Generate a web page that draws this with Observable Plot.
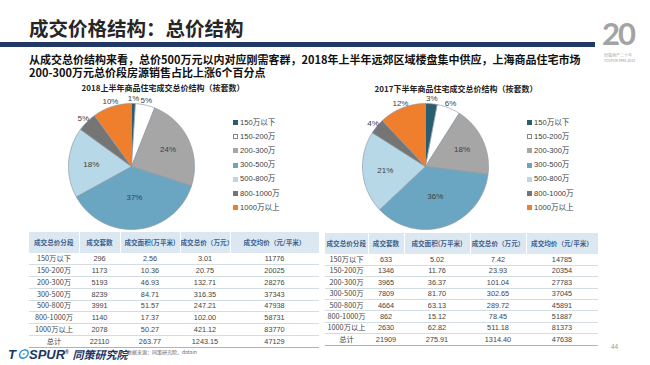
<!DOCTYPE html>
<html><head><meta charset="utf-8">
<script src="https://cdn.jsdelivr.net/npm/d3@7"></script>
<script src="https://cdn.jsdelivr.net/npm/@observablehq/plot@0.6"></script>
<style>
body{margin:0;background:#fff;}
#slide{position:relative;width:650px;height:365px;overflow:hidden;background:#fff;font-family:"Noto Sans CJK SC","Noto Sans",sans-serif;}
.abs{position:absolute;white-space:nowrap;}
table{position:absolute;border-collapse:collapse;table-layout:fixed;font-family:"Liberation Sans","Noto Sans CJK SC",sans-serif;}
th{background:#dbe8f2;color:#3d5f8c;font-size:6.6px;font-weight:bold;height:21px;padding:0;text-align:center;font-family:"Noto Sans CJK SC",sans-serif;border-right:1px solid #fff;line-height:1;white-space:nowrap;overflow:visible;}
td{font-size:7.3px;color:#454545;padding:0;text-align:center;border-bottom:0.6px solid #d3dde4;line-height:1;white-space:nowrap;}
tr.last td{border-bottom:1.5px solid #aab4bc;}
.leg{position:absolute;font-size:7.6px;color:#404040;font-family:"Liberation Sans","Noto Sans CJK SC",sans-serif;white-space:nowrap;line-height:10px;}
.sw{position:absolute;width:5px;height:5px;box-sizing:border-box;}
</style></head>
<body><div id="slide"></div>
<script>
// ---- data ----
const segments = ["150万以下","150-200万","200-300万","300-500万","500-800万","800-1000万","1000万以上"];
const colors = ["#2b5d70","#ffffff","#a6a6a6","#6aa6c1","#b7d8e6","#757575","#ef7f2c"];
const pct2018H1 = [1,5,24,37,18,5,10];
const pct2017H2 = [3,6,18,36,21,4,12];
const headers = ["成交总价分段","成交套数","成交面积(万平米)","成交总价（万元）","成交均价（元/平米）"];
const totalLabel = "总计";
const count2018H1 = [296,1173,5193,8239,3991,1140,2078];
const area2018H1 = [2.56,10.36,46.93,84.71,51.57,17.37,50.27];
const value2018H1 = [3.01,20.75,132.71,316.35,247.21,102.00,421.12];
const avg2018H1 = [11776,20025,28276,37343,47938,58731,83770];
const total2018H1 = [22110,263.77,1243.15,47129];
const count2017H2 = [633,1346,3965,7809,4664,862,2630];
const area2017H2 = [5.02,11.76,36.37,81.70,63.13,15.12,62.82];
const value2017H2 = [7.42,23.93,101.04,302.65,289.72,78.45,511.18];
const avg2017H2 = [14785,20354,27783,37045,45891,51887,81373];
const total2017H2 = [21909,275.91,1314.40,47638];

const slide = document.getElementById("slide");
function addDiv(html, css, cls="abs"){const d=document.createElement("div");d.className=cls;d.innerHTML=html;Object.assign(d.style,css);slide.appendChild(d);return d;}

// header
addDiv("成交价格结构：总价结构",{left:"29px",top:"15px",fontSize:"19.5px",fontWeight:"bold",color:"#262626",lineHeight:"26px"});
addDiv("",{left:"0px",top:"42px",width:"595px",height:"5px",background:"#1f3864"});
addDiv("从成交总价结构来看，总价500万元以内对应刚需客群，2018年上半年远郊区域楼盘集中供应，上海商品住宅市场",{left:"29px",top:"52.5px",fontSize:"11px",fontWeight:"bold",color:"#111",lineHeight:"13px"});
addDiv("200-300万元总价段房源销售占比上涨6个百分点",{left:"29px",top:"65.5px",fontSize:"11px",fontWeight:"bold",color:"#111",lineHeight:"13px"});
// logo top right
addDiv("20",{left:"602px",top:"16px",fontSize:"31px",fontWeight:"bold",color:"#a3a3a3",fontFamily:"Lato,sans-serif",lineHeight:"34px",letterSpacing:"-2px"});
addDiv("同策地产二十年",{left:"604px",top:"53px",fontSize:"4px",color:"#aaa",lineHeight:"5px"});
addDiv("TOSPUR 1998-2018",{left:"604px",top:"59px",fontSize:"3.5px",color:"#999",lineHeight:"4px"});

// pie titles
addDiv("2018上半年商品住宅成交总价结构（按套数）",{left:"163px",top:"83px",transform:"translateX(-50%)",fontSize:"8px",fontWeight:"bold",color:"#222",lineHeight:"10px"});
addDiv("2017下半年商品住宅成交总价结构（按套数）",{left:"456px",top:"84px",transform:"translateX(-50%)",fontSize:"8px",fontWeight:"bold",color:"#222",lineHeight:"10px"});

function piePlot(pcts){
  const R=63, W=170, H=150, cx=85, cy=78;
  const total=d3.sum(pcts);
  let cum=0; const poly=[], labels=[];
  pcts.forEach((p,i)=>{
    const a0=cum/total*2*Math.PI; cum+=p; const a1=cum/total*2*Math.PI;
    const n=Math.max(2,Math.ceil((a1-a0)/(Math.PI/180)));
    poly.push({seg:segments[i],x:0,y:0});
    for(let k=0;k<=n;k++){const a=a0+(a1-a0)*k/n;poly.push({seg:segments[i],x:Math.sin(a),y:-Math.cos(a)});}
    poly.push({seg:segments[i],x:0,y:0});
    const am=(a0+a1)/2; const r=p<=12?1.08:(p>30?0.5:0.64);
    labels.push({x:r*Math.sin(am),y:-r*Math.cos(am),text:p+"%"});
  });
  return Plot.plot({
    width:W,height:H,margin:0,
    x:{domain:[-cx/R,(W-cx)/R],range:[0,W],axis:null},
    y:{domain:[-cy/R,(H-cy)/R],range:[0,H],axis:null},
    color:{domain:segments,range:colors},
    style:{background:"transparent",overflow:"visible",fontFamily:"Liberation Sans, Noto Sans, sans-serif"},
    marks:[
      Plot.line(poly,{x:"x",y:"y",z:"seg",fill:"seg",stroke:"#8d9aa3",strokeWidth:0.7}),
      Plot.text(labels,{x:"x",y:"y",text:"text",fontSize:8,fill:"#404040"})
    ]
  });
}
function placePie(p,left,top){const d=addDiv("",{left:left+"px",top:top+"px"});d.appendChild(p);}
placePie(piePlot(pct2018H1),46,88);
placePie(piePlot(pct2017H2),340,88);

// legends
function legend(x){
  segments.forEach((s,i)=>{
    const y=122.5+i*14.2;
    const sw=document.createElement("div");sw.className="sw";
    Object.assign(sw.style,{left:x+"px",top:(y-2.5)+"px",background:colors[i],border:colors[i]==="#ffffff"?"0.7px solid #888":"none"});
    slide.appendChild(sw);
    addDiv(s,{left:(x+7)+"px",top:(y-5)+"px"},"leg");
  });
}
legend(233); legend(527);

// tables
function fmt2(v){return v.toFixed(2);}
function makeTable(left,top,widths,rowH,cnt,area,val,avg,tot){
  const t=document.createElement("table");
  t.style.left=left+"px";t.style.top=top+"px";t.style.width=d3.sum(widths)+"px";
  const cg=document.createElement("colgroup");
  widths.forEach(w=>{const c=document.createElement("col");c.style.width=w+"px";cg.appendChild(c);});
  t.appendChild(cg);
  let html="<tr>"+headers.map(h=>"<th>"+h+"</th>").join("")+"</tr>";
  segments.forEach((s,i)=>{
    html+=`<tr style="height:${rowH}px"><td style="font-family:'Noto Sans CJK SC',sans-serif">${s}</td><td>${cnt[i]}</td><td>${fmt2(area[i])}</td><td>${fmt2(val[i])}</td><td>${avg[i]}</td></tr>`;
  });
  html+=`<tr class="last" style="height:${rowH}px"><td style="font-family:'Noto Sans CJK SC',sans-serif">${totalLabel}</td><td>${tot[0]}</td><td>${fmt2(tot[1])}</td><td>${fmt2(tot[2])}</td><td>${tot[3]}</td></tr>`;
  t.insertAdjacentHTML("beforeend",html);
  slide.appendChild(t);
}
makeTable(29,232,[50,41,60,50,89],11.8,count2018H1,area2018H1,value2018H1,avg2018H1,total2018H1);
makeTable(325,233,[43,36,66,56,72],11.4,count2017H2,area2017H2,value2017H2,avg2017H2,total2017H2);

// footer
addDiv("T<span style='color:#2a8fd0'>⊙</span>SPUR<sup style='font-size:5px'>®</sup> <span style='font-size:11px'>同策研究院</span>",{left:"8px",top:"344px",fontSize:"13px",fontWeight:"bold",fontStyle:"italic",color:"#1c3664",fontFamily:"'Liberation Sans','Noto Sans CJK SC',sans-serif",lineHeight:"16px"});
addDiv("数据来源：同策研究院、datain",{left:"127px",top:"349px",fontSize:"5px",color:"#666",lineHeight:"6px"});
addDiv("44",{left:"611px",top:"343px",fontSize:"6.5px",color:"#999",lineHeight:"8px",fontFamily:"Liberation Sans,sans-serif"});
</script></body></html>
